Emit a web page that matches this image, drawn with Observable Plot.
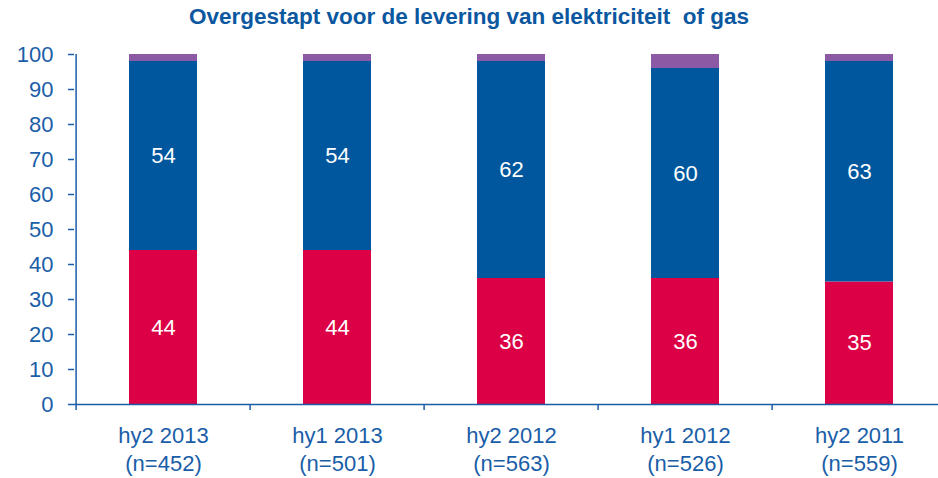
<!DOCTYPE html>
<html>
<head>
<meta charset="utf-8">
<script src="https://cdn.jsdelivr.net/npm/d3@7"></script>
<script src="https://cdn.jsdelivr.net/npm/@observablehq/plot@0.6"></script>
<style>
  body { margin: 0; background: #fff; font-family: "Liberation Sans", Arial, sans-serif; }
  #title { width: 938px; height: 36px; text-align: center; font-weight: bold; font-size: 22.5px; color: #0b57a0; line-height: 34px; }
</style>
</head>
<body>
<div id="title">Overgestapt voor de levering van elektriciteit&nbsp; of gas</div>
<div id="chart"></div>
<script>
const categories = ["hy2 2013", "hy1 2013", "hy2 2012", "hy1 2012", "hy2 2011"];
const sampleSizes = ["(n=452)", "(n=501)", "(n=563)", "(n=526)", "(n=559)"];
const seriesNames = ["Rood", "Blauw", "Overig"];
const redValues = [44, 44, 36, 36, 35];
const blueValues = [54, 54, 62, 60, 63];
const otherValues = [2, 2, 2, 4, 2];
const yTicks = [0, 10, 20, 30, 40, 50, 60, 70, 80, 90, 100];
const colors = ["#dc0046", "#00579d", "#8c5aa4"];

const data = [];
categories.forEach((c, i) => {
  data.push({cat: c, series: seriesNames[0], value: redValues[i], label: true});
  data.push({cat: c, series: seriesNames[1], value: blueValues[i], label: true});
  data.push({cat: c, series: seriesNames[2], value: otherValues[i], label: false});
});
const labelOf = Object.fromEntries(categories.map((c, i) => [c, c + "\n" + sampleSizes[i]]));
const axisColor = "#1a5ea8";

const chart = Plot.plot({
  width: 938,
  height: 442,
  marginTop: 18,
  marginBottom: 74,
  marginLeft: 74,
  marginRight: 0,
  style: {fontFamily: "'Liberation Sans', Arial, sans-serif", background: "white"},
  x: {domain: categories, range: [74, 948], paddingInner: 0.611, paddingOuter: 0.3055, align: 0.5},
  y: {domain: [0, 100]},
  color: {domain: seriesNames, range: colors},
  marks: [
    Plot.barY(data, Plot.stackY({x: "cat", y: "value", fill: "series", order: seriesNames})),
    Plot.text(data.filter(d => d.label), Plot.stackY({x: "cat", y: "value", z: "series", order: seriesNames, text: d => String(d.value), fill: "white", fontSize: 22})),
    Plot.ruleY([0], {stroke: axisColor, strokeWidth: 1.5}),
    Plot.ruleX(categories, {x: d => d, y1: 0, y2: -1.7, dx: -87.4, stroke: axisColor, strokeWidth: 1.5}),
    Plot.ruleX([categories[0]], {x: d => d, y1: 0, y2: 100, dx: -87.4, stroke: axisColor, strokeWidth: 1.5}),
    Plot.axisY({ticks: yTicks, tickSize: 6, tickPadding: 15, fontSize: 22, color: axisColor, stroke: axisColor, strokeWidth: 1.5, label: null}),
    Plot.axisX({tickSize: 0, tickPadding: 18, fontSize: 22, lineHeight: 1.3, lineAnchor: "top", color: axisColor, tickFormat: d => labelOf[d], label: null})
  ]
});
document.getElementById("chart").appendChild(chart);
</script>
</body>
</html>
